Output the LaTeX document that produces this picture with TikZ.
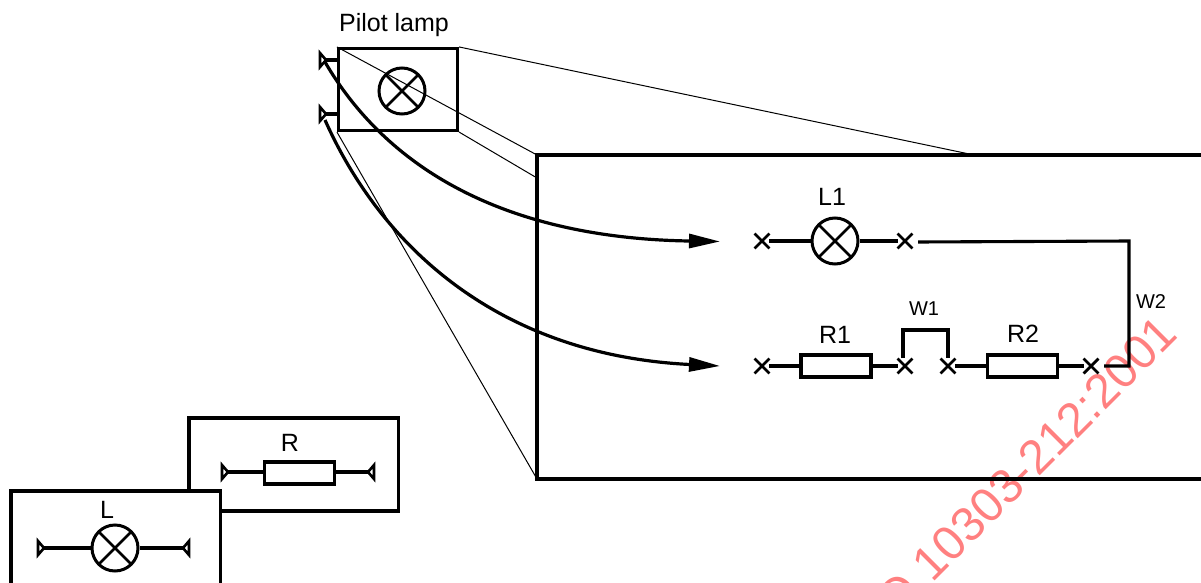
\documentclass[tikz,border=0pt]{standalone}
\usepackage{fontspec}
\setmainfont{Liberation Sans}
\usetikzlibrary{shapes.misc,arrows.meta}
\tikzset{
  x=1pt,y=-1pt,
  wire/.style={line width=3.1pt,line join=miter},
  frame/.style={line width=3.1pt},
  thinline/.style={line width=1pt},
  lamp/.style={circle,draw,line width=3pt,minimum size=46pt,inner sep=0pt,fill=none,
    path picture={\draw[line width=2.6pt] (path picture bounding box.north west)--(path picture bounding box.south east)
      (path picture bounding box.north east)--(path picture bounding box.south west);}},
  resistor/.style={rectangle,draw,line width=3.1pt,minimum width=70pt,minimum height=22pt,inner sep=0pt,fill=white},
  xmark/.style={cross out,draw,line width=2.8pt,minimum size=12pt,inner sep=0pt},
  lab/.style={font=\fontsize{25}{28}\selectfont,inner sep=0pt},
  smalllab/.style={font=\fontsize{20}{24}\selectfont,inner sep=0pt},
  curve/.style={line width=3.2pt},
  tip/.style={-{Triangle[length=31pt,width=14pt]}},
  pinr/.pic={\draw[line width=2.6pt,line join=miter] (0,0)--(-6,-7)--(-6,7)--cycle;},
  pinl/.pic={\draw[line width=2.6pt,line join=miter] (0,0)--(6,-7)--(6,7)--cycle;},
  wmark/.style={text=red!50,font=\fontsize{48}{56}\selectfont,inner sep=0pt},
}
\begin{document}
\begin{tikzpicture}
\useasboundingbox (0,0) rectangle (1201,583);
% watermark, under the drawing
\node[wmark,rotate=45,anchor=base east] (wm) at (1180,336) {O 10303-212:2001};
% legend R
\draw[frame] (189,491) -- (189,418) -- (398.5,418) -- (398.5,511) -- (220,511);
\node[resistor] (lr) at (299.5,473) {};
\coordinate (lrp1) at (228,472); \coordinate (lrp2) at (368,472);
\pic at (lrp1) {pinr}; \pic at (lrp2) {pinl};
\draw[wire] (lrp1) -- (lr.west |- lrp1) (lr.east |- lrp2) -- (lrp2);
\node[lab] (tr) at (290,443) {R};
% legend L
\draw[frame,fill=white] (11,585) -- (11,491) -- (220.5,491) -- (220.5,585);
\node[lamp] (ll) at (115,548) {};
\coordinate (llp1) at (44,548); \coordinate (llp2) at (183,548);
\pic at (llp1) {pinr}; \pic at (llp2) {pinl};
\draw[wire] (llp1) -- (ll) (ll) -- (llp2);
\node[lab] (tl) at (107,510) {L};
% pilot lamp box
\node[rectangle,draw,line width=3.1pt,minimum width=119pt,minimum height=82pt,inner sep=0pt] (pb) at (398,89.5) {};
\node[lamp] (pl) at (402,91) {};
\node[lab] (tp) at (394,25) {Pilot lamp};
\coordinate (pp1) at (326,60); \coordinate (pp2) at (326,114);
\pic at (pp1) {pinr}; \pic at (pp2) {pinr};
\draw[wire] (pp1) -- (pb.west |- pp1) (pp2) -- (pb.west |- pp2);
% main box
\coordinate (mtl) at (537,155); \coordinate (mbl) at (537,479);
\coordinate (mtr) at (1202,155); \coordinate (mbr) at (1202,479);
\draw[frame] (mtr) -- (mtl) -- (mbl) -- (mbr);
\coordinate (mt) at (974,155); \coordinate (ml) at (537,178);
\draw[thinline] (pb.north west) -- (mtl) (pb.north east) -- (mt) (pb.south east) -- (ml) (pb.south west) -- (mbl);
% circuit
\node[xmark] (x1) at (762,241) {};
\node[lamp] (l1) at (835,241) {};
\node[xmark] (x2) at (905,241) {};
\node[lab] (tl1) at (832,197) {L1};
\draw[wire] (x1) -- (l1) (l1) -- (x2);
\coordinate (w2a) at (918,242); \coordinate (w2b) at (1129,241); \coordinate (w2c) at (1129,366); \coordinate (w2d) at (1104,366);
\draw[wire] (w2a) -- (w2b) -- (w2c) -- (w2d);
\node[xmark] (x3) at (762,366) {};
\node[resistor] (r1) at (836,366) {};
\node[xmark] (x4) at (905,366) {};
\node[xmark] (x5) at (948,366) {};
\node[resistor] (r2) at (1022.5,366) {};
\node[xmark] (x6) at (1091,366) {};
\draw[wire] (x3) -- (r1) (r1) -- (x4) (x5) -- (r2) (r2) -- (x6);
\coordinate (w1a) at (903,330); \coordinate (w1b) at (948,330);
\draw[wire] (w1a |- 0,358) -- (w1a) -- (w1b) -- (w1b |- 0,358);
\node[lab] (tr1) at (835,335) {R1};
\node[lab] (tr2) at (1023,334) {R2};
\node[smalllab] (tw1) at (924,309) {W1};
\node[smalllab] (tw2) at (1151,302) {W2};
% curves
\coordinate (c1) at (720,241.5); \coordinate (c2) at (720,366);
\coordinate (s1) at (325,62); \coordinate (s2) at (325,120);
\draw[curve,tip] (s1) .. controls (385,165) and (500,238) .. (c1);
\draw[curve,tip] (s2) .. controls (382,248) and (500,355) .. (c2);
\end{tikzpicture}
\end{document}
